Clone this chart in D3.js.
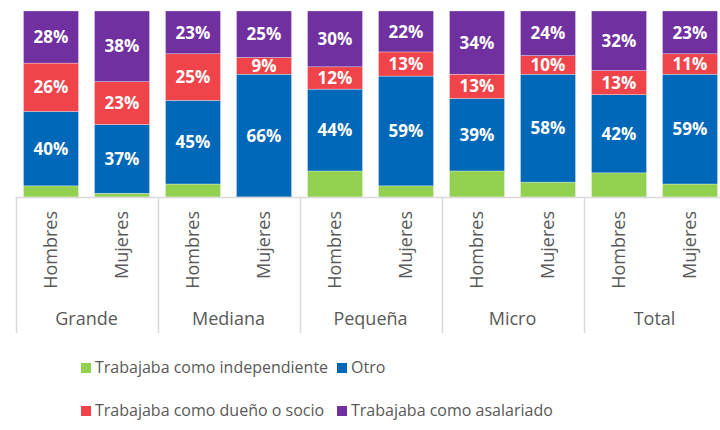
<!DOCTYPE html>
<html>
<head>
<meta charset="utf-8">
<script src="https://cdn.jsdelivr.net/npm/d3@7"></script>
<style>
  body { margin: 0; background: #fff; }
  svg { display: block; font-family: "Open Sans", sans-serif; }
</style>
</head>
<body>
<div id="chart"></div>
<script>
// Groups and sexes
const groups = ["Grande", "Mediana", "Pequeña", "Micro", "Total"];
const sexes = ["Hombres", "Mujeres"];

// Series values, one per bar (Grande H, Grande M, Mediana H, ...)
const independiente = [6, 2, 7, 0, 14, 6, 14, 8, 13, 7];
const otro = [40, 37, 45, 66, 44, 59, 39, 58, 42, 59];
const dueno = [26, 23, 25, 9, 12, 13, 13, 10, 13, 11];
const asalariado = [28, 38, 23, 25, 30, 22, 34, 24, 32, 23];

const seriesNames = ["Trabajaba como independiente", "Otro", "Trabajaba como dueño o socio", "Trabajaba como asalariado"];
const seriesColors = ["#92d050", "#0068b8", "#f0434a", "#7030a0"];

const width = 720, height = 430;
const plotTop = 11, plotBottom = 197, axisBottom = 333;

const svg = d3.select("#chart").append("svg")
    .attr("width", width)
    .attr("height", height);

const bars = [];
groups.forEach(g => sexes.forEach(s => bars.push(g + "|" + s)));

const x = d3.scaleBand()
    .domain(bars)
    .range([15.5, 725.5])
    .paddingInner(0.225)
    .paddingOuter(0.1125);

const y = d3.scaleLinear()
    .domain([0, 100])
    .range([plotBottom, plotTop]);

// stack rows
const rows = bars.map((b, i) => ({
    key: b,
    s0: independiente[i], s1: otro[i], s2: dueno[i], s3: asalariado[i]
}));
const stacked = d3.stack().keys(["s0", "s1", "s2", "s3"])(rows);

const layer = svg.selectAll(".layer")
    .data(stacked)
    .enter().append("g")
    .attr("fill", (d, i) => seriesColors[i]);

layer.selectAll("rect")
    .data(d => d)
    .enter().append("rect")
    .attr("x", d => x(d.data.key))
    .attr("width", x.bandwidth())
    .attr("y", d => y(d[1]))
    .attr("height", d => y(d[0]) - y(d[1]))
    .attr("stroke", "#ffffff")
    .attr("stroke-opacity", 0.5)
    .attr("stroke-width", 0.6);

// data labels (not for the green series)
stacked.forEach((ser, si) => {
    if (si === 0) return;
    svg.append("g").selectAll("text")
        .data(ser)
        .enter().append("text")
        .attr("x", d => x(d.data.key) + x.bandwidth() / 2)
        .attr("y", d => (y(d[0]) + y(d[1])) / 2)
        .attr("dy", "0.36em")
        .attr("text-anchor", "middle")
        .attr("fill", "#ffffff")
        .style("font-weight", "bold")
        .style("font-size", "17px")
        .text(d => (d[1] - d[0]) + "%");
});

// axis: horizontal line and group separators
const groupStep = x.step() * 2;
const x0 = x.range()[0];
svg.append("line")
    .attr("x1", x0).attr("x2", width)
    .attr("y1", plotBottom + 0.5).attr("y2", plotBottom + 0.5)
    .attr("stroke", "#d9d9d9").attr("stroke-width", 1.5);

groups.forEach((g, gi) => {
    const gx = Math.round(x(g + "|Hombres") - x.step() * x.paddingInner() / 2) + 0.5;
    svg.append("line")
        .attr("x1", gx).attr("x2", gx)
        .attr("y1", plotBottom).attr("y2", axisBottom)
        .attr("stroke", "#d9d9d9").attr("stroke-width", 1.5);
    svg.append("text")
        .attr("x", x(g + "|Hombres") - x.step() * x.paddingInner() / 2 + groupStep / 2)
        .attr("y", 325)
        .attr("text-anchor", "middle")
        .attr("fill", "#595959")
        .style("font-size", "18px")
        .text(g);
});

// rotated sex labels
svg.append("g").selectAll("text")
    .data(bars)
    .enter().append("text")
    .attr("transform", d => `translate(${x(d) + x.bandwidth() / 2 + 6},211) rotate(-90)`)
    .attr("text-anchor", "end")
    .attr("fill", "#595959")
    .style("font-size", "18px")
    .text(d => d.split("|")[1]);

// legend
const legendItems = [
    { i: 0, x: 81, y: 363 },
    { i: 1, x: 337, y: 363 },
    { i: 2, x: 81, y: 406 },
    { i: 3, x: 337, y: 406 }
];
const legend = svg.append("g").selectAll("g")
    .data(legendItems)
    .enter().append("g")
    .attr("transform", d => `translate(${d.x},${d.y})`);
legend.append("rect")
    .attr("width", 10).attr("height", 10)
    .attr("fill", d => seriesColors[d.i]);
legend.append("text")
    .attr("x", 14)
    .attr("y", 10)
    .attr("fill", "#595959")
    .style("font-size", "16px")
    .text(d => seriesNames[d.i]);
</script>
</body>
</html>
